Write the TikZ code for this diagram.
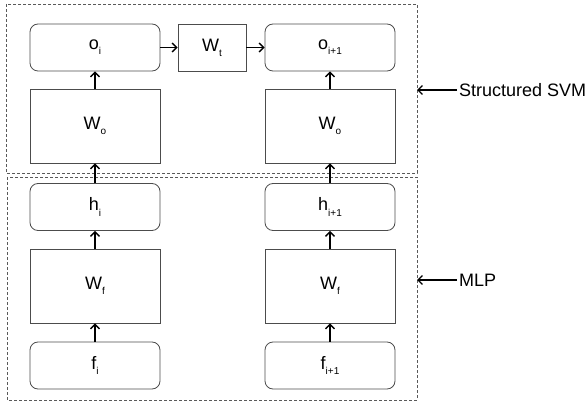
\documentclass[tikz,border=0pt]{standalone}
\usepackage{fontspec}
\setmainfont{Liberation Sans}
\usetikzlibrary{arrows.meta}
\newcommand{\subx}[1]{\raisebox{-0.55ex}{\fontsize{10}{10}\selectfont #1}}
\begin{document}
\begin{tikzpicture}[x=1pt,y=-1pt,
  every node/.style={font=\fontsize{18}{21}\selectfont, inner sep=0pt},
  rbox/.style={draw=black!70, line width=0.8pt, rounded corners=8pt, minimum width=130pt, minimum height=47pt},
  sbox/.style={draw=black!70, line width=0.8pt, minimum width=130pt, minimum height=74pt},
  tbox/.style={draw=black!70, line width=0.8pt, minimum width=68pt, minimum height=47pt},
  frame/.style={draw=black!65, line width=0.8pt, dash pattern=on 3pt off 2pt},
  arr/.style={line width=1.4pt, -{Straight Barb[length=4.5pt,width=9pt]}},
  lab/.style={anchor=west}
]
\useasboundingbox (0,0) rectangle (586,406);
% frames
\draw[frame] (6,4) rectangle (417,173);
\draw[frame] (7,177) rectangle (417,400);
\coordinate (svm) at (417,90);
\coordinate (mlp) at (417,280);
% left column
\node[rbox] (oi) at (95,47.5) {o\subx{i}};
\node[sbox] (woi) at (95,126) {W\subx{o}};
\node[rbox] (hi) at (95,207) {h\subx{i}};
\node[sbox] (wfi) at (95,286) {W\subx{f}};
\node[rbox] (fi) at (95,365.5) {f\subx{i}};
% middle
\node[tbox] (wt) at (212,47.5) {W\subx{t}};
% right column
\node[rbox] (oj) at (330,47.5) {o\subx{i+1}};
\node[sbox] (woj) at (330,126) {W\subx{o}};
\node[rbox] (hj) at (330,207) {h\subx{i+1}};
\node[sbox] (wfj) at (330,286) {W\subx{f}};
\node[rbox] (fj) at (330,365.5) {f\subx{i+1}};
% arrows
\draw[arr] (oi) -- (wt);
\draw[arr] (wt) -- (oj);
\foreach \c in {i,j}{
  \draw[arr] (wo\c) -- (o\c);
  \draw[arr] (h\c) -- (wo\c);
  \draw[arr] (wf\c) -- (h\c);
  \draw[arr] (f\c) -- (wf\c);
}
% labels
\node[lab] (tsvm) at (459,90) {Structured SVM};
\node[lab] (tmlp) at (459,280) {MLP};
\draw[arr] (tsvm.west) ++(-2,0) -- (svm);
\draw[arr] (tmlp.west) ++(-2,0) -- (mlp);
\end{tikzpicture}
\end{document}
